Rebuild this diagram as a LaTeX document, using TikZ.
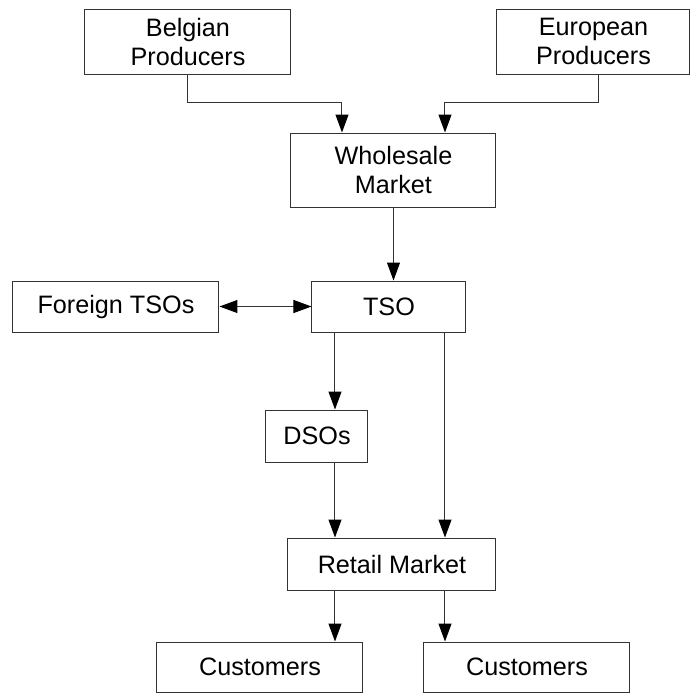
\documentclass[tikz,border=0pt]{standalone}
\usepackage{fontspec}
\setmainfont{Liberation Sans}
\usetikzlibrary{arrows.meta,calc}

\tikzset{
  block/.style={draw=black!80, line width=0.5pt, align=center, inner sep=0pt,
    font=\fontsize{12.6}{14.5}\selectfont},
  arr/.style={draw=black!80, line width=0.5pt, -{Triangle[length=9pt,width=6.5pt,color=black]}},
}

\begin{document}
\begin{tikzpicture}[x=0.5pt,y=-0.5pt]
\useasboundingbox (0,0) rectangle (691,693);

% boxes
\node[block, minimum width=103pt, minimum height=32.5pt] (belg) at (188,41.5) {Belgian\\Producers};
\node[block, minimum width=96.5pt, minimum height=32.5pt] (euro) at (593.5,41.5) {European\\Producers};
\node[block, minimum width=102.5pt, minimum height=37pt] (whole) at (393.5,170) {Wholesale\\Market};
\node[block, minimum width=103pt, minimum height=25.5pt] (foreign) at (116,306.5) {Foreign TSOs};
\node[block, minimum width=77pt, minimum height=25.5pt] (tso) at (389,306.5) {TSO};
\node[block, minimum width=51pt, minimum height=26pt] (dso) at (317,436) {DSOs};
\node[block, minimum width=104pt, minimum height=26pt] (retail) at (392,564) {Retail Market};
\node[block, minimum width=103pt, minimum height=25pt] (custL) at (260,667) {Customers};
\node[block, minimum width=103pt, minimum height=25pt] (custR) at (527,667) {Customers};

% columns for the vertical connectors
\coordinate (colL) at (335,0);
\coordinate (colR) at (445,0);

\draw[arr] (belg.south) -- ++(0,28) -| ($(whole.north)+(-51.5,0)$);
\draw[arr] ($(euro.south)+(5.5,0)$) -- ++(0,28) -| (whole.north -| colR);
\draw[arr] (whole.south) -- (whole.south |- tso.north);
\draw[arr, {Triangle[length=9pt,width=6.5pt,color=black]}-{Triangle[length=9pt,width=6.5pt,color=black]}] (foreign.east) -- (tso.west);
\draw[arr] (tso.south -| colL) -- (dso.north -| colL);
\draw[arr] (tso.south -| colR) -- (retail.north -| colR);
\draw[arr] (dso.south -| colL) -- (retail.north -| colL);
\draw[arr] (retail.south -| colL) -- (custL.north -| colL);
\draw[arr] (retail.south -| colR) -- (custR.north -| colR);
\end{tikzpicture}
\end{document}
